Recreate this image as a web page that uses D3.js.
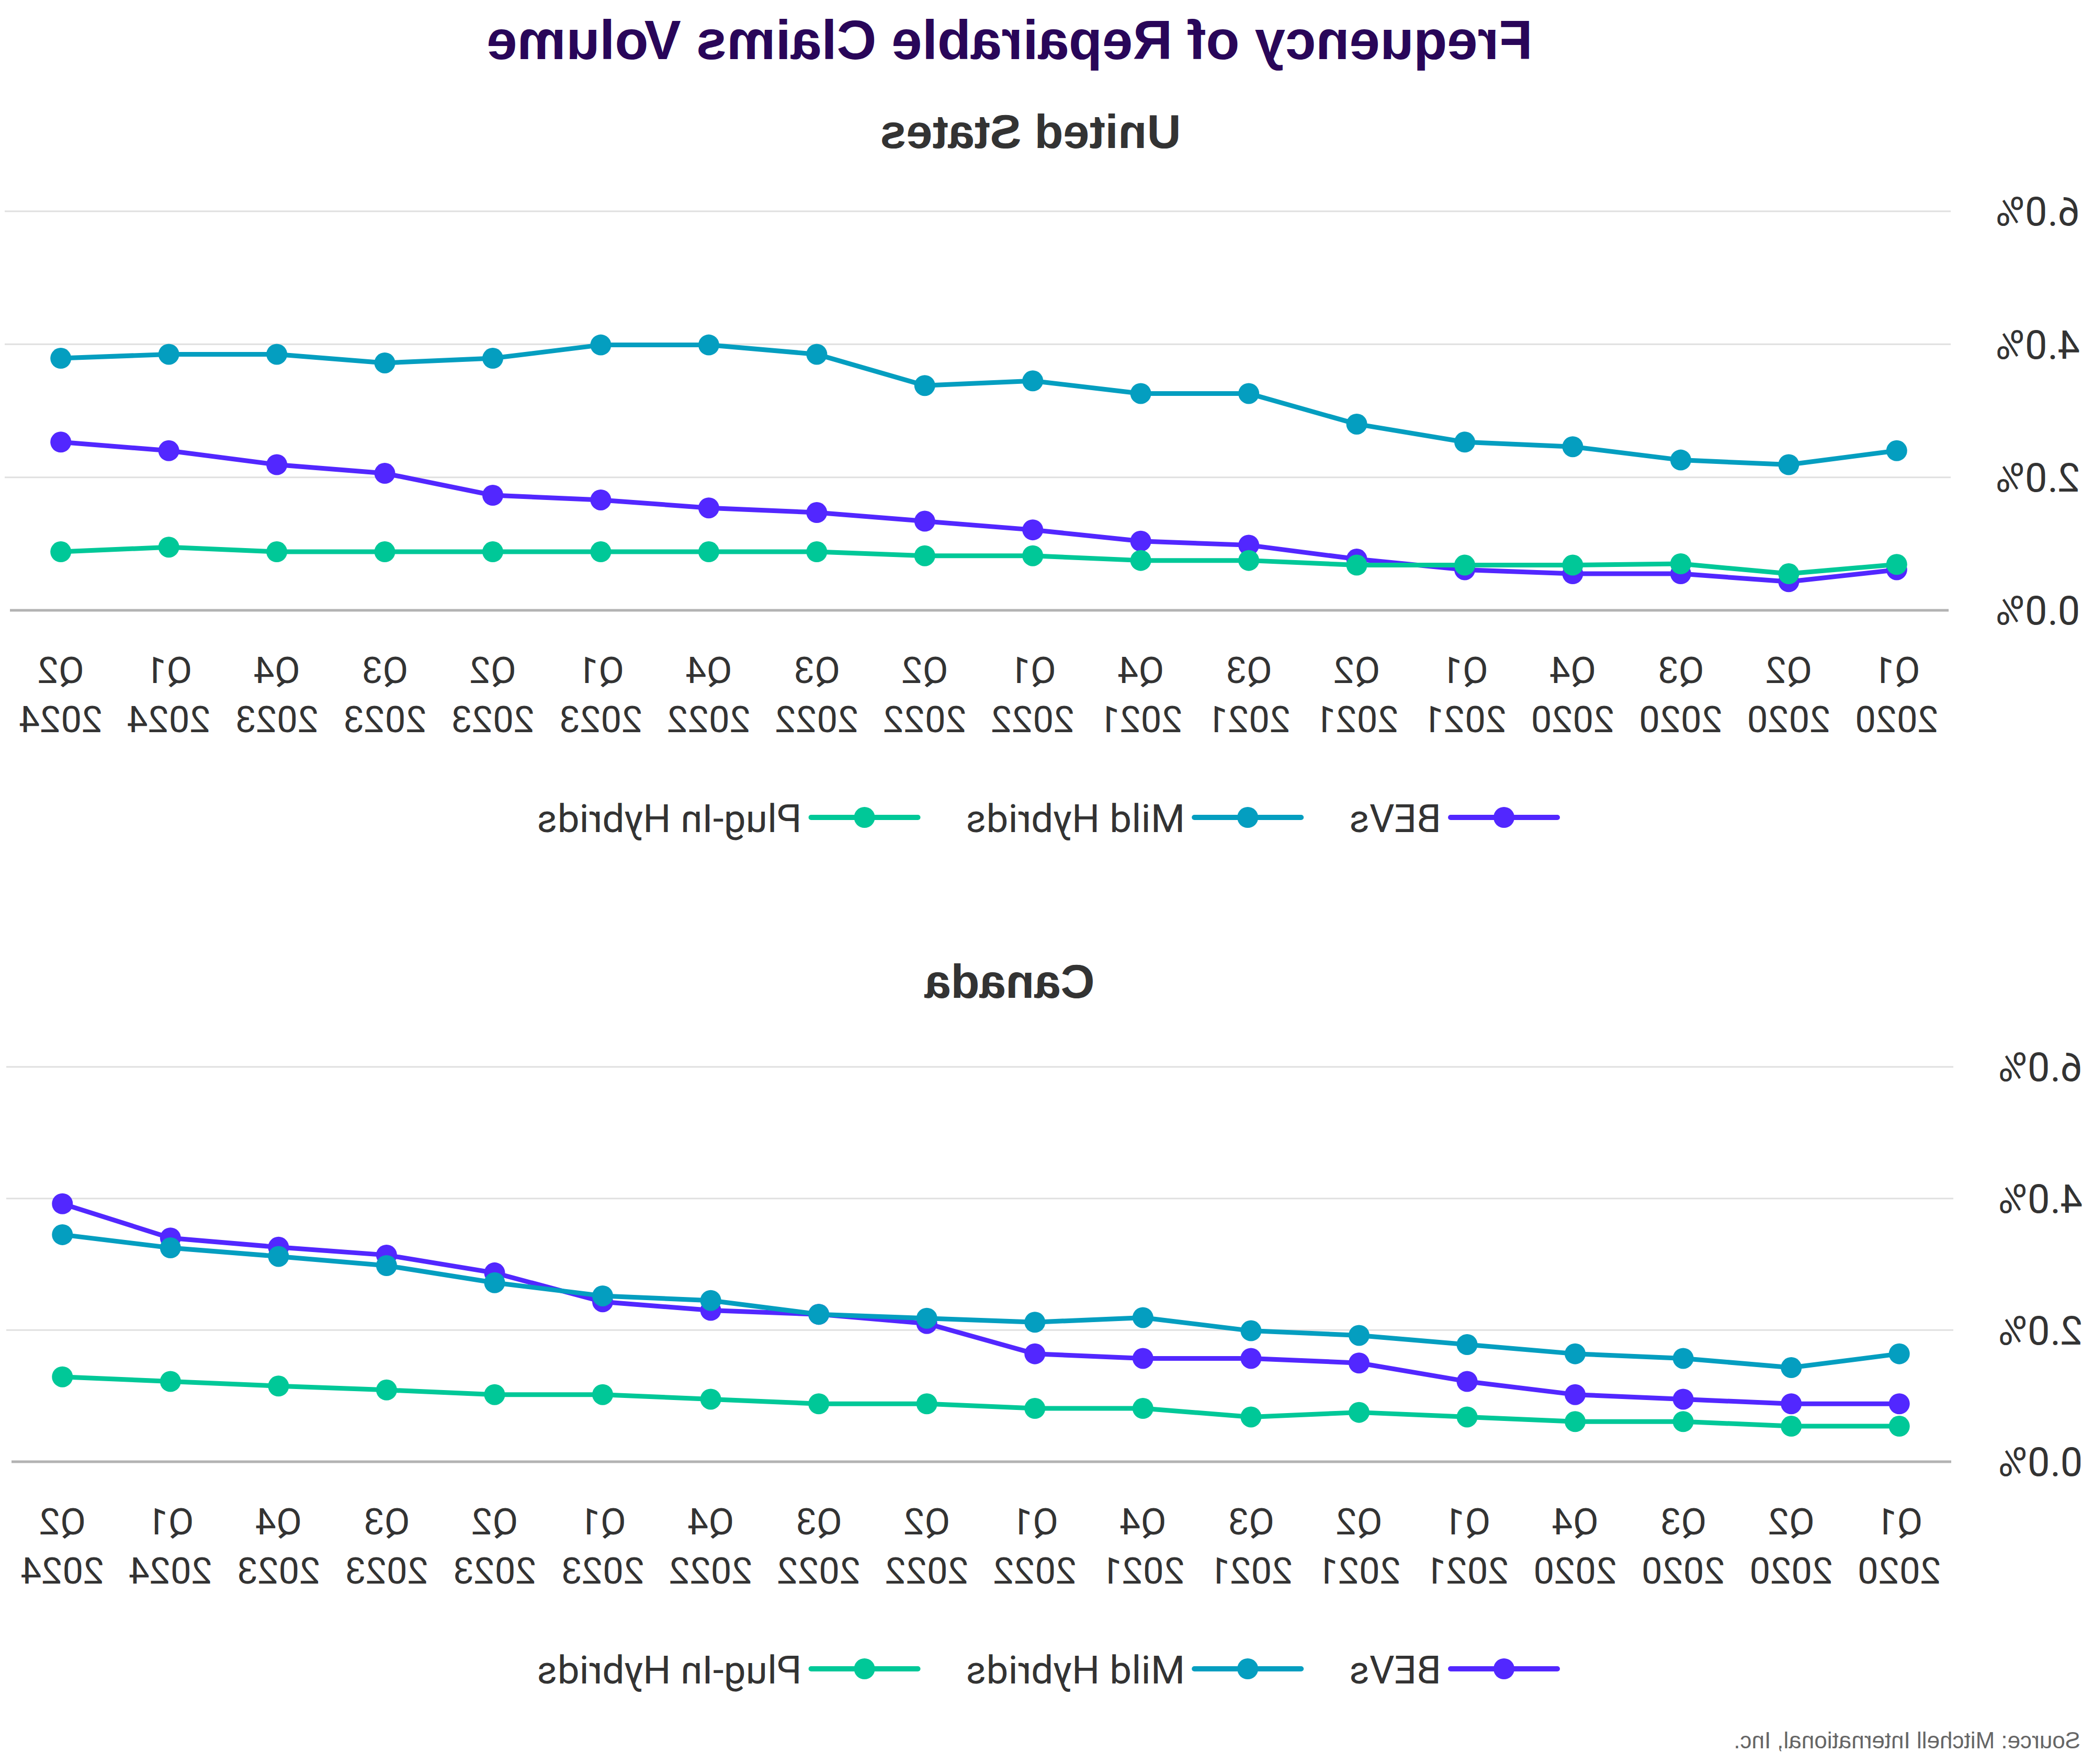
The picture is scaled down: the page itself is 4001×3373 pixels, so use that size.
<!DOCTYPE html>
<html>
<head>
<meta charset="utf-8">
<script src="https://cdn.jsdelivr.net/npm/d3@7"></script>
<style>
html,body{margin:0;padding:0;background:#fff;}
svg{display:block;}
</style>
</head>
<body>
<script>
const quarters = ["Q1 2020","Q2 2020","Q3 2020","Q4 2020","Q1 2021","Q2 2021","Q3 2021","Q4 2021","Q1 2022","Q2 2022","Q3 2022","Q4 2022","Q1 2023","Q2 2023","Q3 2023","Q4 2023","Q1 2024","Q2 2024"];
const seriesNames = ["BEVs","Mild Hybrids","Plug-In Hybrids"];
const seriesColors = ["#5227FF","#049EC0","#00C898"];
const yTicks = [0,2,4,6];

const usBEVs  = [0.61,0.43,0.55,0.55,0.61,0.77,0.98,1.04,1.21,1.34,1.47,1.54,1.66,1.73,2.06,2.19,2.40,2.53];
const usMild  = [2.40,2.19,2.26,2.46,2.53,2.80,3.26,3.26,3.45,3.38,3.85,3.99,3.99,3.79,3.72,3.85,3.85,3.79];
const usPHEV  = [0.69,0.55,0.70,0.68,0.68,0.68,0.75,0.75,0.82,0.82,0.88,0.88,0.88,0.88,0.88,0.88,0.95,0.88];

const caBEVs  = [0.88,0.88,0.95,1.02,1.22,1.50,1.57,1.57,1.64,2.10,2.24,2.30,2.43,2.87,3.14,3.26,3.40,3.92];
const caMild  = [1.64,1.43,1.57,1.64,1.78,1.92,1.99,2.19,2.12,2.18,2.24,2.45,2.52,2.72,2.98,3.12,3.25,3.45];
const caPHEV  = [0.54,0.54,0.61,0.61,0.68,0.75,0.68,0.81,0.81,0.88,0.88,0.95,1.02,1.02,1.09,1.15,1.22,1.29];

const title = "Frequency of Repairable Claims Volume";
const source = "Source: Mitchell International, Inc.";

const W = 4001, H = 3373;
const svg = d3.select("body").append("svg").attr("width", W).attr("height", H);
svg.append("rect").attr("width", W).attr("height", H).attr("fill", "#fff");
// reference image is mirrored horizontally
const root = svg.append("g").attr("transform", `translate(${W},0) scale(-1,1)`);

root.append("text").attr("x", 2071).attr("y", 113).attr("text-anchor", "middle")
  .attr("font-family", "Liberation Sans, Arial, sans-serif").attr("font-weight", "bold")
  .attr("font-size", 105).attr("fill", "#290659").text(title);

root.append("text").attr("x", 24).attr("y", 3343)
  .attr("font-family", "Liberation Sans, Arial, sans-serif")
  .attr("font-size", 44).attr("fill", "#666").text(source);

const panels = [
  {name: "United States", data: [usBEVs, usMild, usPHEV], titleX: 2031, titleY: 283, x0: 272, x1: 3988, y0: 1167, y6: 404, legendY: 1563},
  {name: "Canada", data: [caBEVs, caMild, caPHEV], titleX: 2071, titleY: 1908, x0: 267, x1: 3985, y0: 2795, y6: 2040, legendY: 3191}
];

panels.forEach(p => {
  const g = root.append("g");
  const x = d3.scalePoint().domain(quarters).range([p.x0, p.x1]).padding(0.5);
  const y = d3.scaleLinear().domain([0, 6]).range([p.y0, p.y6]);

  g.append("text").attr("x", p.titleX).attr("y", p.titleY).attr("text-anchor", "middle")
    .attr("font-family", "Liberation Sans, Arial, sans-serif").attr("font-weight", "bold")
    .attr("font-size", 90).attr("fill", "#333").text(p.name);

  // gridlines
  g.selectAll(".grid").data(yTicks.filter(t => t > 0)).enter().append("line")
    .attr("x1", p.x0).attr("x2", p.x1 + 4)
    .attr("y1", d => y(d)).attr("y2", d => y(d))
    .attr("stroke", "#e0e0e0").attr("stroke-width", 3);
  // baseline
  g.append("line").attr("x1", p.x0 + 4).attr("x2", p.x1 - 6)
    .attr("y1", y(0)).attr("y2", y(0)).attr("stroke", "#b3b3b3").attr("stroke-width", 5);

  // y tick labels
  g.selectAll(".ytl").data(yTicks).enter().append("text")
    .attr("x", p.x0 - 86).attr("y", d => y(d)).attr("dy", "0.36em")
    .attr("text-anchor", "end").attr("font-family", "Roboto, sans-serif")
    .attr("font-size", 76).attr("fill", "#333")
    .text(d => d3.format(".1f")(d) + "%");

  // x tick labels
  const xl = g.selectAll(".xtl").data(quarters).enter().append("text")
    .attr("text-anchor", "middle").attr("font-family", "Roboto, sans-serif")
    .attr("font-size", 71).attr("fill", "#333");
  xl.append("tspan").attr("x", d => x(d)).attr("y", y(0) + 139).text(d => d.split(" ")[0]);
  xl.append("tspan").attr("x", d => x(d)).attr("y", y(0) + 233).text(d => d.split(" ")[1]);

  // series
  const line = d3.line().x((d, i) => x(quarters[i])).y(d => y(d));
  p.data.forEach((vals, si) => {
    g.append("path").datum(vals).attr("d", line).attr("fill", "none")
      .attr("stroke", seriesColors[si]).attr("stroke-width", 9)
      .attr("stroke-linejoin", "round").attr("stroke-linecap", "round");
    g.selectAll(".pt" + si).data(vals).enter().append("circle")
      .attr("cx", (d, i) => x(quarters[i])).attr("cy", d => y(d)).attr("r", 20)
      .attr("fill", seriesColors[si]);
  });

  // legend
  let lx = 1024;
  seriesNames.forEach((nm, si) => {
    const lg = g.append("g");
    lg.append("line").attr("x1", lx).attr("x2", lx + 204).attr("y1", p.legendY).attr("y2", p.legendY)
      .attr("stroke", seriesColors[si]).attr("stroke-width", 10).attr("stroke-linecap", "round");
    lg.append("circle").attr("cx", lx + 102).attr("cy", p.legendY).attr("r", 20).attr("fill", seriesColors[si]);
    const t = lg.append("text").attr("x", lx + 222).attr("y", p.legendY + 28)
      .attr("font-family", "Roboto, sans-serif").attr("font-size", 75).attr("fill", "#333").text(nm);
    const w = t.node().getComputedTextLength();
    lx = lx + 222 + w + 92;
  });
});
</script>
</body>
</html>
